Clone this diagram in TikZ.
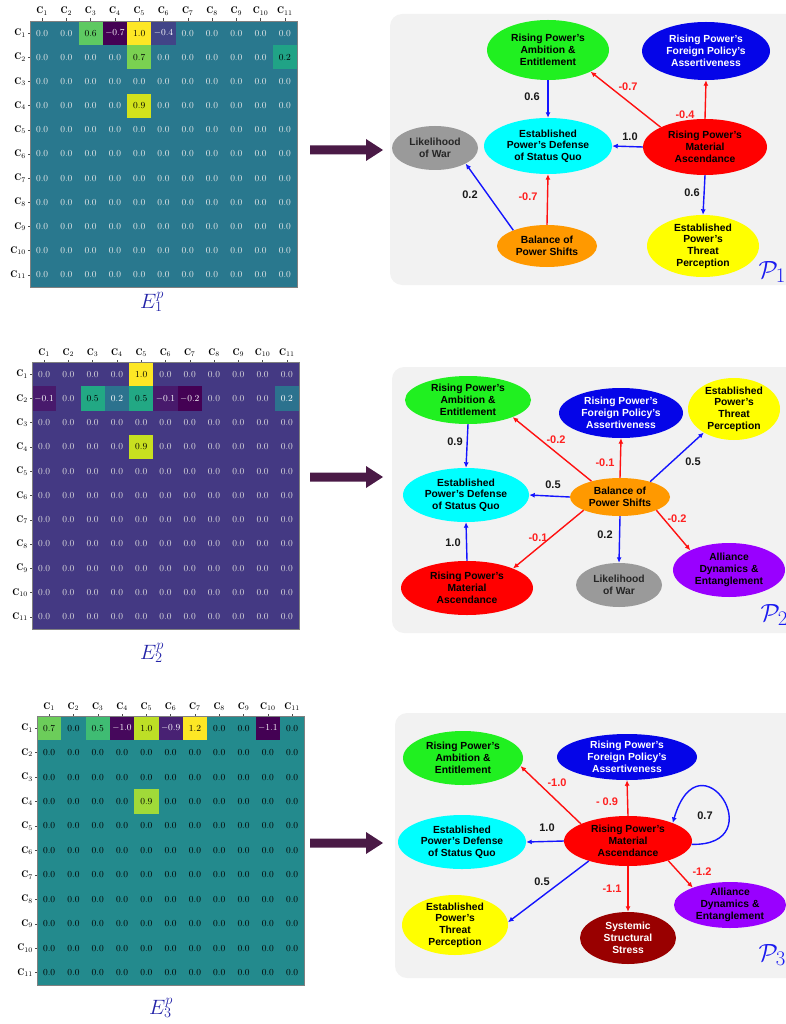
\documentclass[tikz,border=0pt]{standalone}
\usepackage{fontspec}
\setsansfont{Liberation Sans}
\usetikzlibrary{shapes.geometric,arrows.meta}

% heatmap colours
\definecolor{mbaseA}{HTML}{29788E}
\definecolor{mbaseB}{HTML}{443983}
\definecolor{mbaseC}{HTML}{238A8D}
\definecolor{c440154}{HTML}{440154}
\definecolor{c5EC962}{HTML}{5EC962}
\definecolor{cFDE725}{HTML}{FDE725}
\definecolor{c414487}{HTML}{414487}
\definecolor{c7AD151}{HTML}{7AD151}
\definecolor{c20A386}{HTML}{20A386}
\definecolor{cD2E21B}{HTML}{D2E21B}
\definecolor{c481A6C}{HTML}{481A6C}
\definecolor{c22A884}{HTML}{22A884}
\definecolor{c2C728E}{HTML}{2C728E}
\definecolor{cC8E020}{HTML}{C8E020}
\definecolor{c6CCD5A}{HTML}{6CCD5A}
\definecolor{c3FBC73}{HTML}{3FBC73}
\definecolor{c46085C}{HTML}{46085C}
\definecolor{cBDDF26}{HTML}{BDDF26}
\definecolor{c482173}{HTML}{482173}
\definecolor{cA0DA39}{HTML}{A0DA39}
% graph colours
\definecolor{ngreen}{HTML}{20F020}
\definecolor{nblue}{HTML}{0505E8}
\definecolor{ngray}{HTML}{9A9A9A}
\definecolor{ncyan}{HTML}{00FFFF}
\definecolor{nred}{HTML}{FF0000}
\definecolor{norange}{HTML}{FF9900}
\definecolor{nyellow}{HTML}{FFFF00}
\definecolor{npurple}{HTML}{9900FF}
\definecolor{ndred}{HTML}{990000}
\definecolor{eblue}{HTML}{1414FF}
\definecolor{ered}{HTML}{FF1010}
\definecolor{lred}{HTML}{FF2020}
\definecolor{panelgray}{HTML}{F2F2F2}
\definecolor{arrowpurple}{HTML}{4A1A46}
\definecolor{eblabel}{HTML}{2323A8}
\definecolor{pblue}{HTML}{1A1AF0}

\newcommand{\ndfont}{\sffamily\bfseries\fontsize{10.3}{11.7}\selectfont}
\newcommand{\elfont}{\sffamily\bfseries\fontsize{11}{13}\selectfont}
\newcommand{\cellfont}{\fontsize{9.2}{10}\selectfont}
\newcommand{\axfont}{\fontsize{9.6}{11}\selectfont}

\newcommand{\HMsetup}[5]{\def\HMx{#1}\def\HMy{#2}\def\HMw{#3}\def\HMh{#4}\def\HMid{#5}}
\newcommand{\HMbase}[1]{%
  \fill[#1] (\HMx,\HMy) rectangle ++({11*\HMw},{11*\HMh});}
\newcommand{\HMcell}[5]{%
  \expandafter\gdef\csname HMmk\HMid-#1-#2\endcsname{}%
  \fill[#3] ({\HMx+(#2-1)*\HMw},{\HMy+(#1-1)*\HMh}) rectangle ++(\HMw,\HMh);
  \node[celltxt,text=#4] (\HMid s#1-#2) at ({\HMx+(#2-0.5)*\HMw},{\HMy+(#1-0.5)*\HMh}) {#5};}
\newcommand{\HMzeros}[1]{%
  \foreach \HMr in {1,...,11}{\foreach \HMc in {1,...,11}{%
    \ifcsname HMmk\HMid-\HMr-\HMc\endcsname\else
    \node[celltxt,text=#1] (\HMid z\HMr-\HMc) at ({\HMx+(\HMc-0.5)*\HMw},{\HMy+(\HMr-0.5)*\HMh}) {0.0};\fi}}
  \foreach \HMi in {1,...,11}{
    \draw[tickln] ({\HMx+(\HMi-0.5)*\HMw},\HMy) -- ++(0,-2.5);
    \node[axlbl,anchor=base] (\HMid c\HMi) at ({\HMx+(\HMi-0.5)*\HMw},{\HMy-7}) {$\mathbf{C}_{\HMi}$};
    \draw[tickln] (\HMx,{\HMy+(\HMi-0.5)*\HMh}) -- ++(-2.5,0);
    \node[axlbl,anchor=east] (\HMid r\HMi) at ({\HMx-4},{\HMy+(\HMi-0.5)*\HMh}) {$\mathbf{C}_{\HMi}$};
  }
  \draw[frameln] (\HMx,\HMy) rectangle ++({11*\HMw},{11*\HMh});}

\tikzset{
 celltxt/.style={font=\cellfont, inner sep=0pt},
 axlbl/.style={font=\axfont, inner sep=0pt, text=black},
 tickln/.style={draw=black!70, line width=0.5pt},
 frameln/.style={draw=black!50, line width=0.6pt},
 ell/.style={ellipse, inner sep=-4pt, align=center, font=\ndfont, text=black},
 eb/.style={draw=eblue, line width=1.4pt, -{Latex[length=5.5pt,width=5pt]}},
 er/.style={draw=ered, line width=1.4pt, -{Latex[length=5.5pt,width=5pt]}},
 wl/.style={font=\elfont, text=black!90, inner sep=1pt},
 rl/.style={font=\elfont, text=lred, inner sep=1pt},
 elbl/.style={font=\fontsize{20.74}{24}\selectfont, text=eblabel},
 plbl/.style={font=\fontsize{24.88}{28}\selectfont, text=pblue, anchor=west},
 panel/.style={fill=panelgray, rounded corners=12pt},
 bigarrow/.style={fill=arrowpurple},
}

\begin{document}
\begin{tikzpicture}[x=1pt,y=-1pt]
\useasboundingbox (0,0) rectangle (785,1024);

% ===================== heatmap 1 =====================
\HMsetup{30}{21}{24.27}{24.18}{A}
\HMbase{mbaseA}
\HMcell{1}{3}{c5EC962}{black}{0.6}
\HMcell{1}{4}{c440154}{white}{$-$0.7}
\HMcell{1}{5}{cFDE725}{black}{1.0}
\HMcell{1}{6}{c414487}{white}{$-$0.4}
\HMcell{2}{5}{c7AD151}{black}{0.7}
\HMcell{2}{11}{c20A386}{black}{0.2}
\HMcell{4}{5}{cD2E21B}{black}{0.9}
\HMzeros{white!92!black}
\node[elbl] (E1) at (152,302) {$E_1^p$};

% ===================== heatmap 2 =====================
\HMsetup{32}{362}{24.27}{24.27}{B}
\HMbase{mbaseB}
\HMcell{1}{5}{cFDE725}{black}{1.0}
\HMcell{2}{1}{c481A6C}{white}{$-$0.1}
\HMcell{2}{3}{c22A884}{black}{0.5}
\HMcell{2}{4}{c2C728E}{white}{0.2}
\HMcell{2}{5}{c22A884}{black}{0.5}
\HMcell{2}{6}{c481A6C}{white}{$-$0.1}
\HMcell{2}{7}{c440154}{white}{$-$0.2}
\HMcell{2}{11}{c2C728E}{white}{0.2}
\HMcell{4}{5}{cC8E020}{black}{0.9}
\HMzeros{white!88!black}
\node[elbl] (E2) at (152,653) {$E_2^p$};

% ===================== heatmap 3 =====================
\HMsetup{37}{716}{24.3}{24.45}{C}
\HMbase{mbaseC}
\HMcell{1}{1}{c6CCD5A}{black}{0.7}
\HMcell{1}{3}{c3FBC73}{black}{0.5}
\HMcell{1}{4}{c46085C}{white}{$-$1.0}
\HMcell{1}{5}{cBDDF26}{black}{1.0}
\HMcell{1}{6}{c482173}{white}{$-$0.9}
\HMcell{1}{7}{cFDE725}{black}{1.2}
\HMcell{1}{10}{c440154}{white}{$-$1.1}
\HMcell{4}{5}{cA0DA39}{black}{0.9}
\HMzeros{black}
\node[elbl] (E3) at (161,1008) {$E_3^p$};

% ===================== big arrows =====================
\fill[bigarrow] (310,145.5) -- (366,145.5) -- (366,139) -- (383,150) -- (366,161) -- (366,154.5) -- (310,154.5) -- cycle;
\fill[bigarrow] (310,472.5) -- (366,472.5) -- (366,466) -- (383,477) -- (366,488) -- (366,481.5) -- (310,481.5) -- cycle;
\fill[bigarrow] (310,838.5) -- (366,838.5) -- (366,832) -- (383,843) -- (366,854) -- (366,847.5) -- (310,847.5) -- cycle;

% ===================== panels =====================
\fill[panel] (390,14) rectangle (810,285);
\fill[panel] (392,367) rectangle (810,633);
\fill[panel] (395,713) rectangle (810,978);

% ===================== graph 1 =====================
\node[ell, fill=ngreen, minimum width=122pt, minimum height=60pt] (A1) at (548,50) {Rising Power’s\\Ambition \&\\Entitlement};
\node[ell, fill=nblue, text=white, minimum width=128pt, minimum height=58pt] (F1) at (706,51) {Rising Power’s\\Foreign Policy’s\\Assertiveness};
\node[ell, fill=ngray, text=black!85, minimum width=86pt, minimum height=44pt] (L1) at (435,148) {Likelihood\\of War};
\node[ell, fill=ncyan, minimum width=128pt, minimum height=56pt] (D1) at (548,146) {Established\\Power’s Defense\\of Status Quo};
\node[ell, fill=nred, minimum width=124pt, minimum height=56pt] (M1) at (705,147) {Rising Power’s\\Material\\Ascendance};
\node[ell, fill=norange, minimum width=100pt, minimum height=42pt] (B1) at (547,246) {Balance of\\Power Shifts};
\node[ell, fill=nyellow, minimum width=112pt, minimum height=62pt] (T1) at (703,246) {Established\\Power’s\\Threat\\Perception};

\draw[eb] (A1.south) -- (D1.north);
\draw[er] (M1.156) -- (A1.-27);
\draw[er] (M1.north) -- (F1.south);
\draw[eb] (M1.west) -- (D1.east);
\draw[eb] (B1.155) -- (L1.-27);
\draw[er] (B1.north) -- (D1.south);
\draw[eb] (M1.south) -- (T1.north);

\node[wl] (l11) at (532,97) {0.6};
\node[rl] (l12) at (628,87) {-0.7};
\node[rl] (l13) at (685,115) {-0.4};
\node[wl] (l14) at (630,137) {1.0};
\node[wl] (l15) at (470,195) {0.2};
\node[rl] (l16) at (528,197) {-0.7};
\node[wl] (l17) at (692,193) {0.6};
\node[plbl] (P1) at (755,272) {$\mathcal{P}_1$};

% ===================== graph 2 =====================
\node[ell, fill=ngreen, minimum width=126pt, minimum height=48pt] (A2) at (468,400) {Rising Power’s\\Ambition \&\\Entitlement};
\node[ell, fill=nblue, text=white, minimum width=124pt, minimum height=50pt] (F2) at (621,413) {Rising Power’s\\Foreign Policy’s\\Assertiveness};
\node[ell, fill=nyellow, minimum width=92pt, minimum height=62pt] (T2) at (734,409) {Established\\Power’s\\Threat\\Perception};
\node[ell, fill=ncyan, minimum width=126pt, minimum height=54pt] (D2) at (466,495) {Established\\Power’s Defense\\of Status Quo};
\node[ell, fill=norange, minimum width=100pt, minimum height=38pt] (B2) at (620,497) {Balance of\\Power Shifts};
\node[ell, fill=nred, minimum width=132pt, minimum height=54pt] (M2) at (467,588) {Rising Power’s\\Material\\Ascendance};
\node[ell, fill=ngray, text=black!85, minimum width=86pt, minimum height=44pt] (L2) at (619,585) {Likelihood\\of War};
\node[ell, fill=npurple, minimum width=112pt, minimum height=54pt] (Y2) at (729,570) {Alliance\\Dynamics \&\\Entanglement};

\draw[eb] (A2.south) -- (D2.north);
\draw[er] (B2.151) -- (A2.-21);
\draw[er] (B2.north) -- (F2.south);
\draw[eb] (B2.27) -- (T2.-142);
\draw[eb] (B2.west) -- (D2.east);
\draw[er] (B2.-160) -- (M2.23);
\draw[eb] (B2.south) -- (L2.north);
\draw[er] (B2.-20) -- (Y2.153);
\draw[eb] (M2.north) -- (D2.south);

\node[wl] (l21) at (455,442) {0.9};
\node[rl] (l22) at (556,440) {-0.2};
\node[rl] (l23) at (605,463) {-0.1};
\node[wl] (l24) at (693,462) {0.5};
\node[wl] (l25) at (553,485) {0.5};
\node[rl] (l26) at (538,538) {-0.1};
\node[wl] (l27) at (605,535) {0.2};
\node[rl] (l28) at (677,519) {-0.2};
\node[wl] (l29) at (453,543) {1.0};
\node[plbl] (P2) at (757,615) {$\mathcal{P}_2$};

% ===================== graph 3 =====================
\node[ell, fill=ngreen, minimum width=120pt, minimum height=54pt] (A3) at (463,758) {Rising Power’s\\Ambition \&\\Entitlement};
\node[ell, fill=nblue, text=white, minimum width=140pt, minimum height=46pt] (F3) at (627,757) {Rising Power’s\\Foreign Policy’s\\Assertiveness};
\node[ell, fill=ncyan, minimum width=128pt, minimum height=54pt] (D3) at (462,842) {Established\\Power’s Defense\\of Status Quo};
\node[ell, fill=nred, minimum width=128pt, minimum height=50pt] (M3) at (628,841) {Rising Power’s\\Material\\Ascendance};
\node[ell, fill=nyellow, minimum width=106pt, minimum height=60pt] (T3) at (455,925) {Established\\Power’s\\Threat\\Perception};
\node[ell, fill=ndred, text=white, minimum width=96pt, minimum height=52pt] (S3) at (628,938) {Systemic\\Structural\\Stress};
\node[ell, fill=npurple, minimum width=112pt, minimum height=46pt] (Y3) at (730,905) {Alliance\\Dynamics \&\\Entanglement};

\draw[er] (M3.160) -- (A3.-8);
\draw[er] (M3.north) -- (F3.south);
\draw[eb] (M3.-3) .. controls +(82,2) and +(27,-92) .. (M3.22);
\draw[eb] (M3.west) -- (D3.east);
\draw[eb] (M3.-153) -- (T3.3);
\draw[er] (M3.south) -- (S3.north);
\draw[er] (M3.-26) -- (Y3.155);

\node[rl] (l31) at (557,783) {-1.0};
\node[rl] (l32) at (607,802) {- 0.9};
\node[wl] (l33) at (705,816) {0.7};
\node[wl] (l34) at (547,828) {1.0};
\node[wl] (l35) at (542,882) {0.5};
\node[rl] (l36) at (612,889) {-1.1};
\node[rl] (l37) at (702,872) {-1.2};
\node[plbl] (P3) at (755,955) {$\mathcal{P}_3$};
\end{tikzpicture}
\end{document}
